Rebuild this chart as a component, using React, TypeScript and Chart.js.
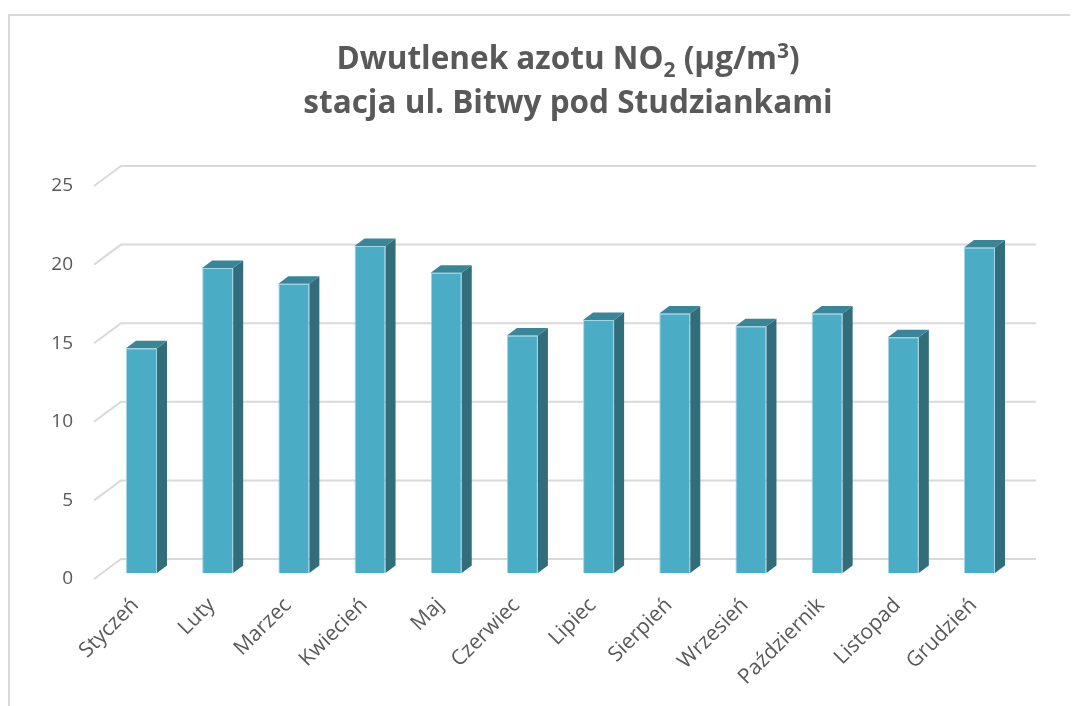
import React, { useEffect, useRef } from "react";
import { Chart, registerables } from "chart.js";

Chart.register(...registerables);

const categories = [
  "Styczeń", "Luty", "Marzec", "Kwiecień", "Maj", "Czerwiec",
  "Lipiec", "Sierpień", "Wrzesień", "Październik", "Listopad", "Grudzień",
];
const no2Values = [14.3, 19.4, 18.4, 20.8, 19.1, 15.1, 16.1, 16.5, 15.7, 16.5, 15.0, 20.7];
const yTicks = [0, 5, 10, 15, 20, 25];
const titleLine1 = [
  { text: "Dwutlenek azotu NO", kind: "normal" },
  { text: "2", kind: "sub" },
  { text: " (µg/m", kind: "normal" },
  { text: "3", kind: "sup" },
  { text: ")", kind: "normal" },
];
const titleLine2 = "stacja ul. Bitwy pod Studziankami";

const FRONT = "#4BACC6";
const SIDE = "#316d7b";
const TOP = "#3a8699";
const GRID = "#d9d9d9";
const TEXT = "#595959";

const TITLE_FONT = "'Open Sans'";
const LABEL_FONT = "'Open Sans'";

const borderPlugin = {
  id: "frameBorder",
  beforeDraw(chart: any) {
    const { ctx, width, height } = chart;
    ctx.save();
    ctx.fillStyle = GRID;
    ctx.fillRect(0, 6, 2, height - 6);
    ctx.fillRect(0, 6, width, 2);
    ctx.restore();
  },
};

const titlePlugin = {
  id: "richTitle",
  afterDraw(chart: any) {
    const { ctx } = chart;
    const cx = 560;
    ctx.save();
    ctx.fillStyle = TEXT;
    ctx.textBaseline = "alphabetic";
    ctx.textAlign = "left";
    const fontFor = (kind: string) =>
      kind === "normal" ? `bold 31.5px ${TITLE_FONT}` : `bold 21px ${TITLE_FONT}`;
    let total = 0;
    for (const s of titleLine1) {
      ctx.font = fontFor(s.kind);
      total += ctx.measureText(s.text).width;
    }
    let x = cx - total / 2;
    const base1 = 61;
    for (const s of titleLine1) {
      ctx.font = fontFor(s.kind);
      const dy = s.kind === "sub" ? 8 : s.kind === "sup" ? -11 : 0;
      ctx.fillText(s.text, x, base1 + dy);
      x += ctx.measureText(s.text).width;
    }
    ctx.font = `bold 31.5px ${TITLE_FONT}`;
    ctx.textAlign = "center";
    ctx.fillText(titleLine2, cx, 105);
    ctx.restore();
  },
};

const wallPlugin = {
  id: "backWall",
  beforeDatasetsDraw(chart: any) {
    const { ctx, chartArea } = chart;
    const ys = chart.scales.y;
    ctx.save();
    ctx.strokeStyle = GRID;
    ctx.lineWidth = 2;
    for (const v of yTicks) {
      const fy = ys.getPixelForValue(v);
      ctx.beginPath();
      ctx.moveTo(chartArea.left - 9.4, fy);
      ctx.lineTo(chartArea.left + 17.6, fy - 20);
      ctx.lineTo(chartArea.right + 18.4, fy - 20);
      ctx.stroke();
    }
    ctx.restore();
  },
};

const depthPlugin = {
  id: "barDepth",
  afterDatasetsDraw(chart: any) {
    const { ctx } = chart;
    const meta = chart.getDatasetMeta(0);
    const dx = 10;
    const dy = 7.5;
    ctx.save();
    for (const el of meta.data) {
      const { x, y, base, width } = el.getProps(["x", "y", "base", "width"], true);
      const l = x - width / 2;
      const r = x + width / 2;
      ctx.fillStyle = SIDE;
      ctx.beginPath();
      ctx.moveTo(r, y);
      ctx.lineTo(r + dx, y - dy);
      ctx.lineTo(r + dx, base - dy);
      ctx.lineTo(r, base);
      ctx.closePath();
      ctx.fill();
      ctx.fillStyle = TOP;
      ctx.beginPath();
      ctx.moveTo(l, y);
      ctx.lineTo(l + dx, y - dy);
      ctx.lineTo(r + dx, y - dy);
      ctx.lineTo(r, y);
      ctx.closePath();
      ctx.fill();
    }
    ctx.restore();
  },
};

export default function App() {
  const ref = useRef<HTMLCanvasElement | null>(null);

  useEffect(() => {
    document.body.style.overflow = "hidden";
    if (!ref.current) return;
    const chart = new Chart(ref.current, {
      type: "bar",
      data: {
        labels: categories,
        datasets: [
          {
            label: "NO2",
            data: no2Values,
            yAxisID: "yb",
            backgroundColor: FRONT,
            borderColor: "rgba(150,210,228,0.9)",
            borderWidth: 1,
            barPercentage: 0.407,
            categoryPercentage: 1,
          },
        ],
      },
      options: {
        animation: false,
        responsive: true,
        maintainAspectRatio: false,
        layout: { padding: { top: 178, right: 60.4, left: 0, bottom: 0 } },
        plugins: {
          legend: { display: false },
          tooltip: { enabled: false },
          title: { display: false },
        },
        scales: {
          x: {
            grid: { display: false, drawTicks: false },
            border: { display: false },
            ticks: {
              autoSkip: false,
              maxRotation: 45,
              minRotation: 45,
              padding: 14,
              labelOffset: -6,
              color: TEXT,
              font: { family: LABEL_FONT, size: 21 },
            },
            afterFit(scale: any) {
              scale.height = 127;
            },
          },
          y: {
            min: 0,
            max: 25,
            grid: { display: false, drawTicks: false },
            border: { display: false },
            ticks: {
              stepSize: 5,
              padding: 30.4,
              color: TEXT,
              font: { family: LABEL_FONT, size: 19 },
            },
            afterFit(scale: any) {
              scale.width = 95.4;
            },
          },
          yb: {
            display: false,
            min: -0.382,
            max: 24.618,
          },
        },
      },
      plugins: [borderPlugin, wallPlugin, depthPlugin, titlePlugin],
    });
    return () => chart.destroy();
  }, []);

  return (
    <div style={{ position: "relative", width: "1070px", height: "698px" }}>
      <canvas ref={ref} />
    </div>
  );
}
